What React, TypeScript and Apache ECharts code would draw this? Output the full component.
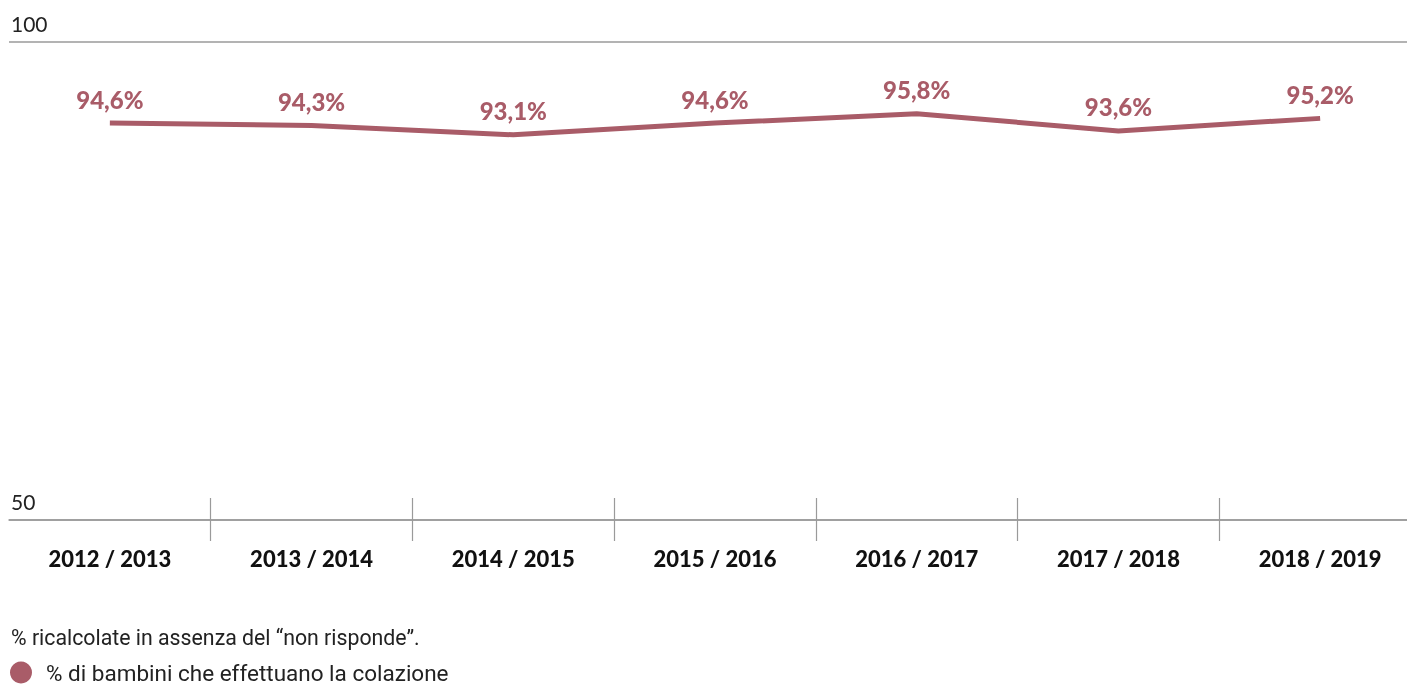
import React, { useEffect, useRef } from "react";
import * as echarts from "echarts";

const categories = ["2012 / 2013", "2013 / 2014", "2014 / 2015", "2015 / 2016", "2016 / 2017", "2017 / 2018", "2018 / 2019"];
const values = [94.6, 94.3, 93.1, 94.6, 95.8, 93.6, 95.2];
const yTicks = [50, 100];
const seriesName = "% di bambini che effettuano la colazione";
const note = "% ricalcolate in assenza del \u201cnon risponde\u201d.";

const RED = "#A95C68";
const GREY = "#9a9a9a";

export default function App() {
  const ref = useRef<HTMLDivElement>(null);
  useEffect(() => {
    if (!ref.current) return;
    const chart = echarts.init(ref.current, undefined, { renderer: "svg" });
    const tickFilter = (index: number) => index > 0;
    chart.setOption({
      animation: false,
      textStyle: { fontFamily: "Lato" },
      title: {
        text: note,
        left: 11,
        top: 627,
        padding: 0,
        textStyle: { fontFamily: "Roboto", fontWeight: "normal", fontSize: 21.3, color: "#222" },
      },
      legend: {
        left: 10,
        top: 661,
        padding: 0,
        icon: "circle",
        itemWidth: 22,
        itemHeight: 22,
        textStyle: { fontFamily: "Roboto", fontSize: 22.5, lineHeight: 22, color: "#222", padding: [0, 0, 0, 9] },
        data: [seriesName],
      },
      grid: { left: 9, right: 0, top: 41.5, bottom: 164, containLabel: false },
      xAxis: [
        {
          type: "category",
          data: categories,
          boundaryGap: true,
          axisLine: { show: true, lineStyle: { color: GREY, width: 1.5 } },
          axisTick: { show: true, length: 21, interval: tickFilter, lineStyle: { color: GREY, width: 1.2 } },
          axisLabel: { fontFamily: "Lato", fontWeight: 900, fontSize: 22, color: "#111", margin: 27 },
        },
        {
          type: "category",
          data: categories,
          position: "bottom",
          boundaryGap: true,
          axisLine: { show: false },
          axisTick: { show: true, inside: true, length: 22, interval: tickFilter, lineStyle: { color: GREY, width: 1.2 } },
          axisLabel: { show: false },
        },
      ],
      yAxis: [
        {
          type: "value",
          min: yTicks[0],
          max: yTicks[1],
          interval: 50,
          axisLine: { show: false },
          axisTick: { show: false },
          splitLine: { show: true, lineStyle: { color: GREY, width: 1.5 } },
          axisLabel: {
            inside: true,
            margin: 2,
            verticalAlign: "bottom",
            fontFamily: "Lato",
            fontSize: 21,
            color: "#222",
            padding: [0, 0, 8, 0],
          },
        },
        {
          type: "value",
          min: 44,
          max: 105,
          show: false,
          splitLine: { show: false },
        },
      ],
      series: [
        {
          name: seriesName,
          type: "line",
          xAxisIndex: 0,
          yAxisIndex: 1,
          data: values,
          symbol: "circle",
          symbolSize: 0.1,
          showSymbol: true,
          lineStyle: { color: RED, width: 5 },
          itemStyle: { color: RED },
          label: {
            show: true,
            position: "top",
            distance: 12,
            fontFamily: "Lato",
            fontWeight: 900,
            fontSize: 24,
            color: RED,
            formatter: (p: any) => String(p.value).replace(".", ",") + "%",
          },
        },
      ],
    });
    return () => chart.dispose();
  }, []);
  return (
    <div style={{ position: "fixed", left: 0, top: 0, width: 1407, height: 684, overflow: "hidden" }}>
      <div ref={ref} style={{ width: 1421, height: 684 }} />
    </div>
  );
}
